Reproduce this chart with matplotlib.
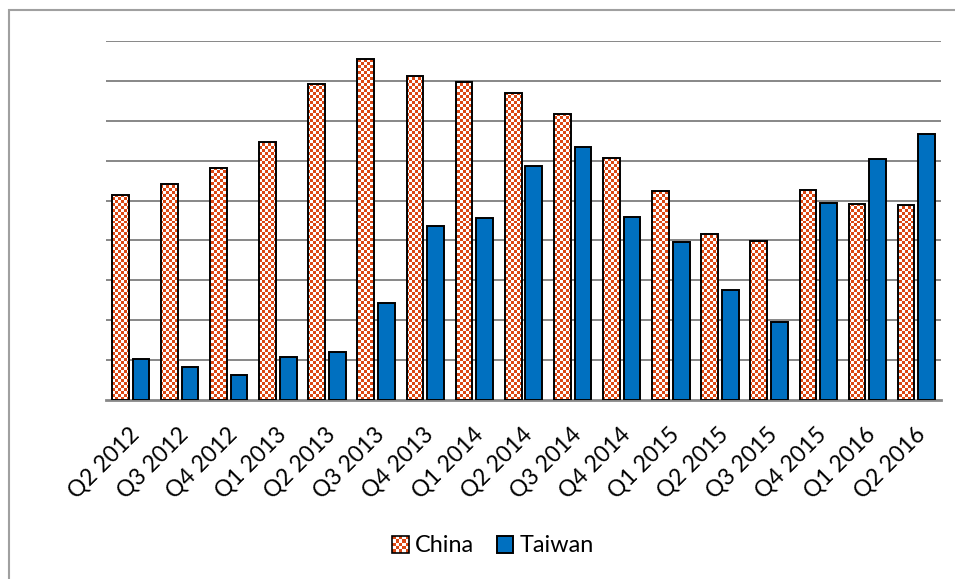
import numpy as np
import matplotlib
matplotlib.use('Agg')
import matplotlib.pyplot as plt
from matplotlib.patches import Rectangle
from matplotlib.path import Path
from matplotlib.transforms import ScaledTranslation

# Values, in gridline units (axis has no labels)
quarters = ['Q2 2012', 'Q3 2012', 'Q4 2012', 'Q1 2013', 'Q2 2013', 'Q3 2013',
            'Q4 2013', 'Q1 2014', 'Q2 2014', 'Q3 2014', 'Q4 2014', 'Q1 2015',
            'Q2 2015', 'Q3 2015', 'Q4 2015', 'Q1 2016', 'Q2 2016']
china = [5.14, 5.41, 5.81, 6.47, 7.93, 8.55, 8.13, 7.98, 7.69, 7.17,
         6.06, 5.24, 4.16, 3.99, 5.26, 4.91, 4.89]
taiwan = [1.02, 0.83, 0.63, 1.09, 1.20, 2.44, 4.36, 4.56, 5.86, 6.35,
          4.58, 3.97, 2.76, 1.95, 4.94, 6.05, 6.67]

ORANGE = '#DB4814'
BLUE = '#0070C0'
GRID = '#878787'

plt.rcParams['font.family'] = 'Lato'

W, H = 955, 579
fig = plt.figure(figsize=(W / 100, H / 100), dpi=100)
ax = fig.add_axes([106 / W, 1 - 400 / H, (941 - 106) / W, (400 - 41) / H])

x = np.arange(len(quarters))
bw = 0.34
cbars = ax.bar(x - 0.21, china, bw, facecolor='none', edgecolor='black', linewidth=1.4, zorder=3)
tbars = ax.bar(x + 0.21, taiwan, bw, color=BLUE, edgecolor='black', linewidth=1.4, zorder=3)

# checkered fill for China bars
ncol, nrow = 278, 120
checker = (np.add.outer(np.arange(nrow), np.arange(ncol)) % 2).astype(float)
cmap = matplotlib.colors.ListedColormap(['white', ORANGE])
im = ax.imshow(checker, cmap=cmap, extent=(-0.5, 16.5, 0, 9), origin='lower',
               interpolation='nearest', aspect='auto', zorder=2.5)
clip = Path.make_compound_path(*[p.get_path().transformed(p.get_patch_transform()) for p in cbars])
im.set_clip_path(clip, ax.transData)

ax.set_xlim(-0.5, 16.5)
ax.set_ylim(0, 9)
ax.set_yticks(range(1, 10))
ax.set_yticklabels([])
ax.tick_params(axis='both', length=0)
ax.yaxis.grid(True, color=GRID, linewidth=1.4)
ax.set_axisbelow(True)
for s in ['top', 'left', 'right']:
    ax.spines[s].set_visible(False)
ax.spines['bottom'].set_color(GRID)
ax.spines['bottom'].set_linewidth(2)

ax.set_xticks(x)
ax.set_xticklabels(quarters, rotation=45, ha='right', va='center',
                   rotation_mode='anchor', fontsize=16.5)
ax.tick_params(axis='x', pad=12)
shift = ScaledTranslation(5 / 100, -14 / 100, fig.dpi_scale_trans)
for lab in ax.get_xticklabels():
    lab.set_transform(lab.get_transform() + shift)


class CheckerHandler:
    def legend_artist(self, legend, orig_handle, fontsize, handlebox):
        x0, y0 = -handlebox.xdescent, -handlebox.ydescent
        w, h = handlebox.width, handlebox.height
        n = 5
        tr = handlebox.get_transform()
        handlebox.add_artist(Rectangle((x0, y0), w, h, facecolor='white', transform=tr))
        for i in range(n):
            for j in range(n):
                if (i + j) % 2 == 0:
                    handlebox.add_artist(Rectangle((x0 + i * w / n, y0 + j * h / n), w / n, h / n,
                                                   facecolor=ORANGE, edgecolor='none', transform=tr))
        border = Rectangle((x0, y0), w, h, facecolor='none', edgecolor='black', lw=1.2, transform=tr)
        handlebox.add_artist(border)
        return border


fig.legend([cbars, tbars], ['China', 'Taiwan'], loc='center',
           bbox_to_anchor=(493 / W, 1 - 546 / H), ncol=2, frameon=False,
           fontsize=16.8, handlelength=0.7, handleheight=0.7,
           handletextpad=0.25, columnspacing=1.0,
           handler_map={cbars: CheckerHandler()})

# outer chart border
fig.patches.append(Rectangle((9 / W, -0.1), 2, 1.1 - 10 / H, transform=fig.transFigure,
                             facecolor='none', edgecolor='#A0A0A0', linewidth=1.5))

fig.savefig('out.png', dpi=100)
